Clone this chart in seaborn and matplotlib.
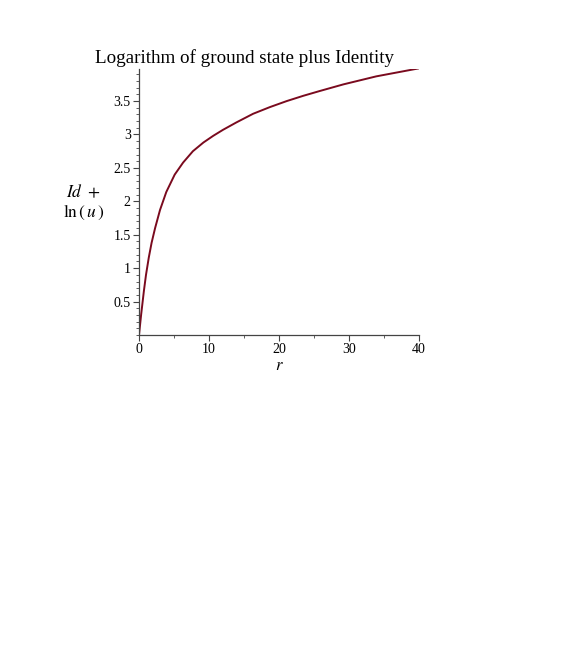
import matplotlib
matplotlib.use("Agg")
import matplotlib.pyplot as plt
from matplotlib.ticker import MultipleLocator, FixedLocator
import seaborn as sns
import pandas as pd

# data
r_values = [0, 0.3, 0.7, 1.0, 1.4, 1.8, 2.3, 3.0, 3.9, 5.1, 6.3, 7.7, 9.2,
            10.6, 12.0, 13.9, 16.3, 18.7, 21.1, 23.5, 25.8, 29.2, 33.9, 40]
y_values = [0, 0.30, 0.66, 0.90, 1.16, 1.38, 1.60, 1.87, 2.14, 2.40, 2.58,
            2.75, 2.88, 2.98, 3.07, 3.18, 3.31, 3.41, 3.50, 3.58, 3.65, 3.75,
            3.87, 3.99]
x_tick_values = [0, 10, 20, 30, 40]
y_tick_values = [0.5, 1, 1.5, 2, 2.5, 3, 3.5]
y_tick_labels = ["0.5", "1", "1.5", "2", "2.5", "3", "3.5"]
title_text = "Logarithm of ground state plus Identity"

sns.set_style("ticks")
plt.rcParams["font.family"] = ["Liberation Serif", "DejaVu Serif"]
plt.rcParams["mathtext.fontset"] = "stix"
plt.rcParams["text.color"] = "black"

df = pd.DataFrame({"r": r_values, "val": y_values})

fig = plt.figure(figsize=(5.72, 6.54), dpi=100)
ax = fig.add_axes([139 / 572, 1 - 335 / 654, 280 / 572, (335 - 69) / 654])

sns.lineplot(data=df, x="r", y="val", ax=ax, color="#7a0a1e", linewidth=1.4)

ax.set_xlim(0, 40)
ax.set_ylim(0, 3.98)
ax.xaxis.set_major_locator(FixedLocator(x_tick_values))
ax.xaxis.set_minor_locator(MultipleLocator(5))
ax.set_yticks(y_tick_values)
ax.set_yticklabels(y_tick_labels)
ax.yaxis.set_minor_locator(MultipleLocator(0.1))

for side in ["top", "right"]:
    ax.spines[side].set_visible(False)
for side in ["left", "bottom"]:
    ax.spines[side].set_color("#444444")
    ax.spines[side].set_linewidth(0.9)

ax.tick_params(axis="both", which="major", length=4, width=0.8, color="#444444",
               labelsize=10, pad=2, labelcolor="black")
ax.tick_params(axis="both", which="minor", length=2, width=0.6, color="#444444")

ax.set_xlabel("")
ax.set_ylabel("")

fig.text(279 / 572, 1 - 366 / 654, "$r$", ha="center", va="center", fontsize=12,
         color="black")
fig.text(83 / 572, 1 - 193 / 654, r"$Id\ +$", ha="center", va="center",
         fontsize=12.5, color="black")
fig.text(84 / 572, 1 - 212 / 654, r"$\mathrm{ln}\,(\,u\,)$", ha="center",
         va="center", fontsize=12.5, color="black")
fig.text(244.5 / 572, 1 - 58 / 654, title_text, ha="center", va="center",
         fontsize=13.7, color="black")

fig.savefig("out.png", dpi=100)
